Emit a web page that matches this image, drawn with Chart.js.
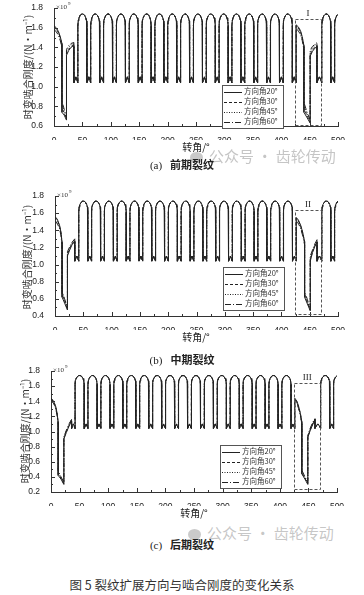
<!DOCTYPE html>
<html>
<head>
<meta charset="utf-8">
<script src="https://cdn.jsdelivr.net/npm/chart.js@4.4.0/dist/chart.umd.min.js"></script>
<style>
  body { margin: 0; background: #fff; width: 364px; height: 595px; position: relative; overflow: hidden; font-family: "Noto Sans CJK SC", sans-serif; color: #222; }
  canvas { position: absolute; left: 0; }
  .ytitle { position: absolute; white-space: nowrap; font-size: 10px; color: #333; transform: translate(-50%, -50%) rotate(-90deg); }
  .xtitle { position: absolute; font-size: 10px; color: #222; transform: translateX(-50%); white-space: nowrap; }
  .cap { position: absolute; left: 182px; transform: translateX(-50%); font-size: 11px; font-weight: bold; white-space: nowrap; color: #222; }
  .cap span { font-family: "Liberation Serif", serif; font-weight: normal; margin-right: 8px; }
  .wm { position: absolute; font-size: 15px; color: rgba(150,150,150,0.55); white-space: nowrap; }
  .wm i { display: inline-block; width: 13px; height: 11px; border-radius: 50%; background: rgba(150,150,150,0.5); margin-right: 6px; vertical-align: -1px; }
  .figcap { position: absolute; left: 182px; top: 575px; transform: translateX(-50%); font-size: 12.5px; font-weight: 400; color: #333; white-space: nowrap; }
</style>
</head>
<body>

<canvas id="chartA" width="364" height="140" style="top:0px"></canvas>
<canvas id="chartB" width="364" height="150" style="top:180px"></canvas>
<canvas id="chartC" width="364" height="146" style="top:360px"></canvas>

<div class="ytitle" style="left:27px; top:67px">时变啮合刚度/(N·m⁻¹)</div>
<div class="ytitle" style="left:26px; top:257px">时变啮合刚度/(N·m⁻¹)</div>
<div class="ytitle" style="left:24px; top:431px">时变啮合刚度/(N·m⁻¹)</div>

<div class="xtitle" style="left:196px; top:139px">转角/°</div>
<div class="xtitle" style="left:196px; top:329px">转角/°</div>
<div class="xtitle" style="left:194px; top:505px">转角/°</div>

<div class="wm" style="left:190px; top:145px"><i></i>公众号 · 齿轮传动</div>
<div class="wm" style="left:188px; top:522px"><i></i>公众号 · 齿轮传动</div>

<div class="cap" style="top:156px"><span>(a)</span>前期裂纹</div>
<div class="cap" style="top:351px"><span>(b)</span>中期裂纹</div>
<div class="cap" style="top:536px"><span>(c)</span>后期裂纹</div>

<div class="figcap">图 5 裂纹扩展方向与啮合刚度的变化关系</div>

<script>
// ---- data (stiffness in 1e9 N/m) ----
var seriesNames = ['方向角20°', '方向角30°', '方向角45°', '方向角60°'];
var xTicks = [0, 50, 100, 150, 200, 250, 300, 350, 400, 450, 500];
var yTicksA = [0.6, 0.8, 1.0, 1.2, 1.4, 1.6, 1.8];
var yTicksB = [0.4, 0.6, 0.8, 1.0, 1.2, 1.4, 1.6, 1.8];
var yTicksC = [0.2, 0.4, 0.6, 0.8, 1.0, 1.2, 1.4, 1.6, 1.8];

// one healthy mesh cycle: angle offset from the arch top, stiffness
var cycleOffsets = [-8, -8, -7.3, -6, -4, -2, 0, 2, 4, 6, 7.3, 8, 8, 10, 11.3, 12.6, 14.6];
var cycleValues = [1.04, 1.62, 1.67, 1.70, 1.725, 1.737, 1.74, 1.737, 1.725, 1.70, 1.67, 1.62, 1.04, 1.075, 1.10, 1.075, 1.04];

// tops of the healthy arches (same in all panels)
var archTops = [50, 72.6, 95.2, 117.8, 140.4, 163, 185.6, 208.2, 230.8, 253.4, 276, 298.6, 321.2, 343.8, 366.4, 389, 411.6];
var archTopsAfter = [479.4, 502];

// panel (a): cracked tooth at the start and again around 426-471
var angA1 = [0, 4, 8, 11, 14, 14, 18, 22, 22, 26, 30, 35, 35, 37, 38.5, 40, 42];
var stiffA1 = [
  [1.62, 1.60, 1.56, 1.51, 1.44, 0.74, 0.71, 0.66, 1.32, 1.37, 1.40, 1.42, 1.04, 1.075, 1.10, 1.075, 1.04],
  [1.61, 1.59, 1.55, 1.50, 1.43, 0.78, 0.73, 0.67, 1.34, 1.38, 1.41, 1.43, 1.04, 1.075, 1.10, 1.075, 1.04],
  [1.60, 1.58, 1.54, 1.49, 1.42, 0.82, 0.75, 0.68, 1.36, 1.40, 1.43, 1.44, 1.04, 1.075, 1.10, 1.075, 1.04],
  [1.58, 1.56, 1.52, 1.47, 1.40, 0.85, 0.77, 0.69, 1.38, 1.42, 1.44, 1.45, 1.04, 1.075, 1.10, 1.075, 1.04]
];
var angA2 = [426.2, 426.2, 430, 434, 437, 440, 440, 445, 451, 451, 455, 459, 463, 463, 465, 467.2, 469.4, 471.4];
var stiffA2 = [
  [1.04, 1.63, 1.61, 1.57, 1.51, 1.42, 0.74, 0.69, 0.63, 1.31, 1.36, 1.39, 1.41, 1.04, 1.075, 1.10, 1.075, 1.04],
  [1.04, 1.62, 1.60, 1.56, 1.50, 1.41, 0.78, 0.71, 0.64, 1.33, 1.37, 1.40, 1.42, 1.04, 1.075, 1.10, 1.075, 1.04],
  [1.04, 1.61, 1.59, 1.55, 1.49, 1.40, 0.81, 0.73, 0.65, 1.35, 1.39, 1.42, 1.44, 1.04, 1.075, 1.10, 1.075, 1.04],
  [1.04, 1.59, 1.57, 1.53, 1.47, 1.38, 0.84, 0.75, 0.66, 1.37, 1.41, 1.43, 1.45, 1.04, 1.075, 1.10, 1.075, 1.04]
];

// panel (b)
var angB1 = [0, 4, 8, 10.5, 12.5, 12.5, 17, 22, 22, 26, 30, 35, 35, 37, 38.5, 40, 42];
var stiffB1 = [
  [1.56, 1.53, 1.46, 1.38, 1.26, 0.62, 0.55, 0.47, 1.10, 1.17, 1.23, 1.27, 1.04, 1.075, 1.10, 1.075, 1.04],
  [1.55, 1.52, 1.45, 1.37, 1.25, 0.65, 0.57, 0.48, 1.12, 1.19, 1.24, 1.28, 1.04, 1.075, 1.10, 1.075, 1.04],
  [1.53, 1.50, 1.44, 1.36, 1.24, 0.67, 0.58, 0.49, 1.14, 1.20, 1.25, 1.29, 1.04, 1.075, 1.10, 1.075, 1.04],
  [1.50, 1.48, 1.42, 1.34, 1.22, 0.69, 0.60, 0.50, 1.15, 1.21, 1.26, 1.30, 1.04, 1.075, 1.10, 1.075, 1.04]
];
var angB2 = [426.2, 426.2, 430, 434, 437.5, 441, 441, 446, 451, 451, 455, 459, 463, 463, 465, 467.2, 469.4, 471.4];
var stiffB2 = [
  [1.04, 1.55, 1.52, 1.46, 1.38, 1.27, 0.62, 0.54, 0.46, 1.04, 1.14, 1.21, 1.26, 1.04, 1.075, 1.10, 1.075, 1.04],
  [1.04, 1.54, 1.51, 1.45, 1.37, 1.26, 0.65, 0.56, 0.47, 1.06, 1.15, 1.22, 1.27, 1.04, 1.075, 1.10, 1.075, 1.04],
  [1.04, 1.52, 1.50, 1.44, 1.36, 1.25, 0.67, 0.57, 0.48, 1.08, 1.16, 1.23, 1.28, 1.04, 1.075, 1.10, 1.075, 1.04],
  [1.04, 1.50, 1.48, 1.42, 1.34, 1.23, 0.69, 0.59, 0.49, 1.10, 1.17, 1.24, 1.29, 1.04, 1.075, 1.10, 1.075, 1.04]
];

// panel (c)
var angC1 = [0, 4, 8, 10.5, 12.5, 12.5, 17.5, 22.5, 22.5, 27, 31.5, 36, 36, 37.5, 39, 40.5, 42];
var stiffC1 = [
  [1.44, 1.41, 1.34, 1.25, 1.13, 0.42, 0.37, 0.30, 0.90, 0.99, 1.07, 1.14, 1.04, 1.075, 1.10, 1.075, 1.04],
  [1.43, 1.40, 1.33, 1.24, 1.12, 0.44, 0.38, 0.31, 0.91, 1.00, 1.08, 1.15, 1.04, 1.075, 1.10, 1.075, 1.04],
  [1.42, 1.39, 1.32, 1.23, 1.11, 0.46, 0.39, 0.32, 0.92, 1.01, 1.09, 1.16, 1.04, 1.075, 1.10, 1.075, 1.04],
  [1.40, 1.38, 1.31, 1.22, 1.10, 0.48, 0.40, 0.33, 0.93, 1.02, 1.10, 1.16, 1.04, 1.075, 1.10, 1.075, 1.04]
];
var angC2 = [426.2, 426.2, 430, 433, 436, 438.5, 438.5, 444, 449, 449, 453, 457.5, 461.5, 461.5, 464, 466.5, 469, 471.4];
var stiffC2 = [
  [1.04, 1.44, 1.40, 1.33, 1.24, 1.13, 0.44, 0.37, 0.30, 0.92, 1.01, 1.09, 1.16, 1.04, 1.075, 1.10, 1.075, 1.04],
  [1.04, 1.43, 1.39, 1.32, 1.23, 1.12, 0.45, 0.38, 0.31, 0.93, 1.02, 1.10, 1.16, 1.04, 1.075, 1.10, 1.075, 1.04],
  [1.04, 1.42, 1.38, 1.31, 1.22, 1.11, 0.47, 0.39, 0.32, 0.94, 1.03, 1.11, 1.17, 1.04, 1.075, 1.10, 1.075, 1.04],
  [1.04, 1.40, 1.37, 1.30, 1.21, 1.10, 0.49, 0.40, 0.33, 0.95, 1.04, 1.12, 1.17, 1.04, 1.075, 1.10, 1.075, 1.04]
];

// ---- styles ----
var lineDash = [[], [3, 2], [1, 1.5], [6, 2, 1, 2]];
var lineColor = '#222';

function pushCycle(pts, top) {
  for (var i = 0; i < cycleOffsets.length; i++) {
    pts.push({ x: top + cycleOffsets[i], y: cycleValues[i] });
  }
}

function buildSeries(ang1, stiff1, ang2, stiff2) {
  var pts = [];
  for (var i = 0; i < ang1.length; i++) pts.push({ x: ang1[i], y: stiff1[i] });
  archTops.forEach(function (t) { pushCycle(pts, t); });
  for (var j = 0; j < ang2.length; j++) pts.push({ x: ang2[j], y: stiff2[j] });
  archTopsAfter.forEach(function (t) { pushCycle(pts, t); });
  return pts;
}

function makeDatasets(ang1, stiff1, ang2, stiff2) {
  var sets = [];
  // dashed ones first so the solid line stays on top where they all coincide
  for (var s = seriesNames.length - 1; s >= 0; s--) {
    sets.push({
      label: seriesNames[s],
      data: buildSeries(ang1, stiff1[s], ang2, stiff2[s]),
      showLine: true,
      pointRadius: 0,
      borderWidth: 1,
      borderColor: lineColor,
      borderDash: lineDash[s],
      tension: 0
    });
  }
  return sets;
}

// inward ticks, x10^9, legend, dashed box with roman numeral
var decorPlugin = {
  id: 'decor',
  afterDatasetsDraw: function (chart, args, opts) {
    var ctx = chart.ctx;
    var xs = chart.scales.x, ys = chart.scales.y;
    var area = chart.chartArea;
    ctx.save();
    ctx.strokeStyle = '#333';
    ctx.lineWidth = 1;
    ctx.setLineDash([]);
    // x ticks
    for (var v = 0; v <= 500; v += 25) {
      var px = Math.round(xs.getPixelForValue(v)) + 0.5;
      var len = (v % 50 === 0) ? 4 : 2;
      ctx.beginPath(); ctx.moveTo(px, area.bottom); ctx.lineTo(px, area.bottom - len); ctx.stroke();
    }
    // y ticks
    for (var k = Math.round(ys.min * 10); k <= Math.round(ys.max * 10); k++) {
      var py = Math.round(ys.getPixelForValue(k / 10)) + 0.5;
      var l2 = (k % 2 === 0) ? 4 : 2;
      ctx.beginPath(); ctx.moveTo(area.left, py); ctx.lineTo(area.left + l2, py); ctx.stroke();
    }
    // x10^9
    ctx.fillStyle = '#333';
    ctx.font = '7px "Liberation Serif"';
    ctx.textBaseline = 'middle';
    ctx.fillText('×10', area.left + 2, area.top - 1);
    ctx.font = '5px "Liberation Serif"';
    ctx.fillText('9', area.left + 14, area.top - 4);

    // dashed box
    var bx0 = xs.getPixelForValue(opts.boxX[0]), bx1 = xs.getPixelForValue(opts.boxX[1]);
    var by0 = ys.getPixelForValue(opts.boxY[1]), by1 = ys.getPixelForValue(opts.boxY[0]);
    ctx.strokeStyle = '#555';
    ctx.setLineDash([3, 2]);
    ctx.strokeRect(Math.round(bx0) + 0.5, Math.round(by0) + 0.5, Math.round(bx1 - bx0), Math.round(by1 - by0));
    ctx.setLineDash([]);
    ctx.fillStyle = '#222';
    ctx.font = '9px "Liberation Serif"';
    ctx.textAlign = 'center';
    ctx.textBaseline = 'bottom';
    ctx.fillText(opts.mark, (bx0 + bx1) / 2, by0 - 1);

    // legend
    var lx = opts.legend[0], ly = opts.legend[1], lw = 61, rowH = 10;
    ctx.fillStyle = '#fff';
    ctx.fillRect(lx, ly, lw, rowH * 4 + 3);
    ctx.strokeStyle = '#555';
    ctx.strokeRect(lx + 0.5, ly + 0.5, lw, rowH * 4 + 3);
    ctx.textAlign = 'left';
    ctx.textBaseline = 'middle';
    ctx.font = '7.5px "Noto Sans CJK SC"';
    for (var r = 0; r < 4; r++) {
      var yy = ly + 6.5 + r * rowH;
      ctx.strokeStyle = lineColor;
      ctx.setLineDash(lineDash[r]);
      ctx.beginPath(); ctx.moveTo(lx + 2, Math.round(yy) + 0.5); ctx.lineTo(lx + 20, Math.round(yy) + 0.5); ctx.stroke();
      ctx.setLineDash([]);
      ctx.fillStyle = '#333';
      ctx.fillText(seriesNames[r], lx + 22, yy);
    }
    ctx.restore();
  }
};

function makeChart(id, datasets, yTicks, yMin, axisLeft, axisRight, top, xHeight, decor) {
  return new Chart(document.getElementById(id), {
    type: 'scatter',
    data: { datasets: datasets },
    options: {
      responsive: false,
      animation: false,
      layout: { padding: { left: 0, right: 364 - axisRight, top: top, bottom: 0 } },
      plugins: { legend: { display: false }, tooltip: { enabled: false }, decor: decor },
      scales: {
        x: {
          type: 'linear', min: 0, max: 500,
          grid: { display: false },
          border: { display: true, color: '#333', width: 1 },
          afterBuildTicks: function (scale) { scale.ticks = xTicks.map(function (v) { return { value: v }; }); },
          afterFit: function (scale) { scale.height = xHeight; },
          ticks: { font: { family: 'Liberation Sans', size: 8.5 }, color: '#222', padding: 2, maxRotation: 0 }
        },
        y: {
          type: 'linear', min: yMin, max: 1.8,
          grid: { display: false },
          border: { display: true, color: '#333', width: 1 },
          afterBuildTicks: function (scale) { scale.ticks = yTicks.map(function (v) { return { value: v }; }); },
          afterFit: function (scale) { scale.width = axisLeft; },
          ticks: { font: { family: 'Liberation Sans', size: 8.5 }, color: '#222', padding: 3,
                   callback: function (v) { return Number(v).toFixed(1); } }
        }
      }
    },
    plugins: [decorPlugin]
  });
}

makeChart('chartA', makeDatasets(angA1, stiffA1, angA2, stiffA2), yTicksA, 0.6, 54, 338, 8, 14,
  { boxX: [424, 470], boxY: [0.615, 1.69], mark: 'I', legend: [222, 85] });
makeChart('chartB', makeDatasets(angB1, stiffB1, angB2, stiffB2), yTicksB, 0.4, 55, 338, 16, 14,
  { boxX: [424, 470], boxY: [0.43, 1.64], mark: 'II', legend: [223, 87] });
makeChart('chartC', makeDatasets(angC1, stiffC1, angC2, stiffC2), yTicksC, 0.2, 51, 337, 11, 14,
  { boxX: [425, 471], boxY: [0.24, 1.64], mark: 'III', legend: [220, 85] });
</script>
</body>
</html>
